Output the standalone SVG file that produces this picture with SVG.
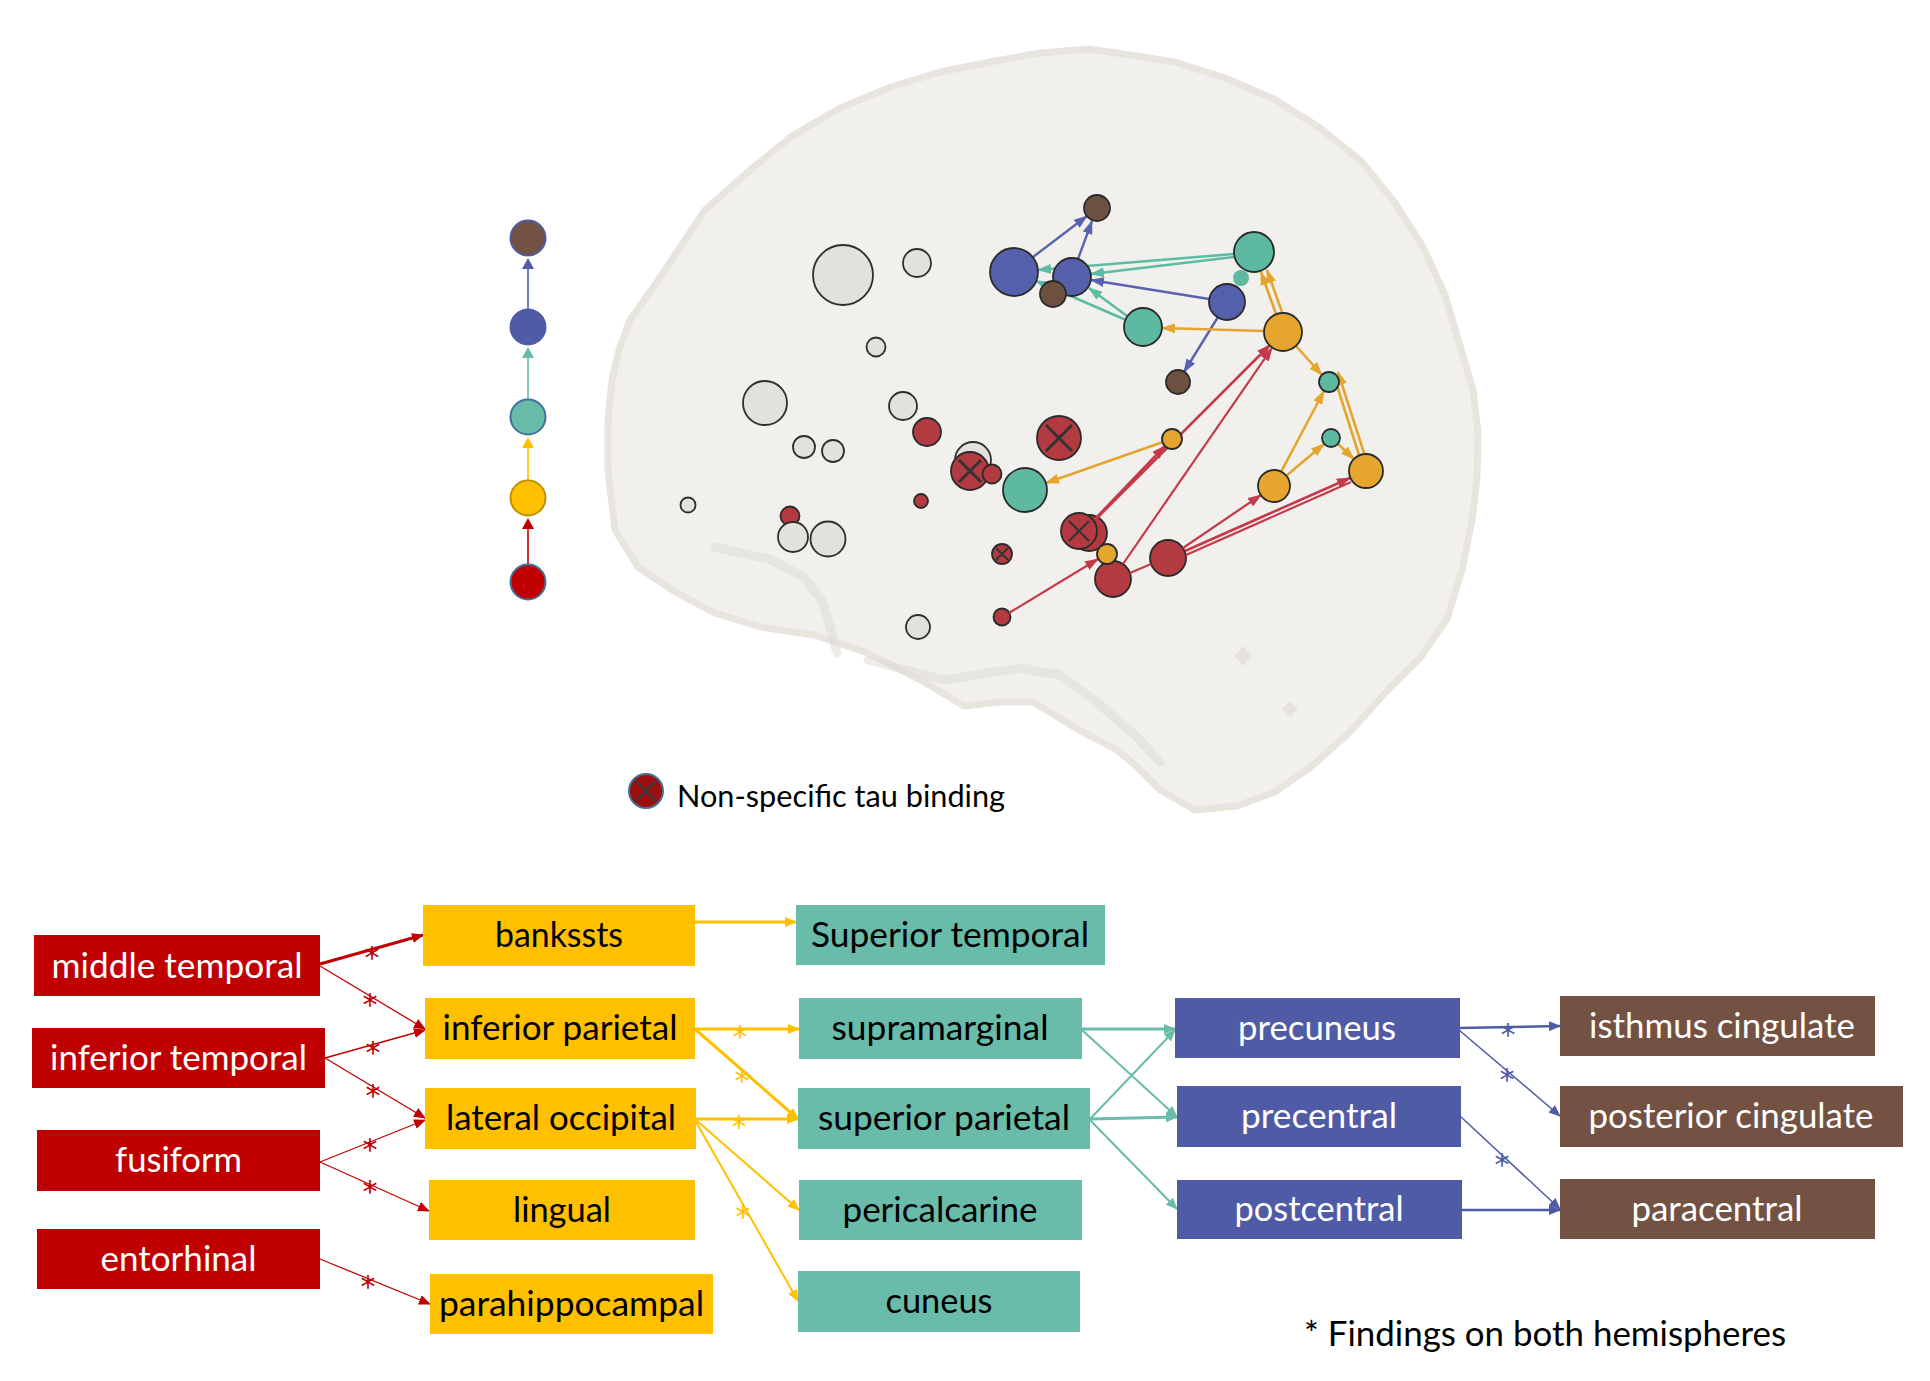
<svg xmlns="http://www.w3.org/2000/svg" width="1930" height="1381" viewBox="0 0 1930 1381">
<style>
.lbl{font-family:Lato,"Liberation Sans",sans-serif;font-size:35px;text-anchor:middle}
.w{fill:#ffffff}.k{fill:#000000}
.red{fill:#c00000}.yel{fill:#ffc000}.tea{fill:#68bca9}.blu{fill:#4f5ba5}.brn{fill:#735243}
.star{font-family:"DejaVu Sans",sans-serif;font-size:30px;text-anchor:middle}
.gn{fill:#e2e1de;stroke:#2e2e2e;stroke-width:1.8}
.rn{fill:#b23a40;stroke:#2a2a2a;stroke-width:1.8}
.yn{fill:#e5a52e;stroke:#2a2a2a;stroke-width:1.8}
.tn{fill:#5eb9a1;stroke:#2a2a2a;stroke-width:1.8}
.bn{fill:#5460ab;stroke:#2a2a2a;stroke-width:1.8}
.brn2{fill:#6e5040;stroke:#2a2a2a;stroke-width:1.8}
.xx{stroke:#333;stroke-width:3;fill:none}
.cr{stroke:#c00000;fill:none}.cy{stroke:#ffc000;fill:none}.ct{stroke:#68bca9;fill:none}.cb{stroke:#4f5ba5;fill:none}
.br{stroke:#c43a4b;fill:none;stroke-width:2.2}.by{stroke:#e5a42d;fill:none;stroke-width:2.6}.bt{stroke:#5dbca3;fill:none;stroke-width:2.6}.bb{stroke:#5862b0;fill:none;stroke-width:2.4}
</style>
<defs>
<marker id="mr" viewBox="0 0 12 10" refX="11" refY="5" markerWidth="12" markerHeight="10" markerUnits="userSpaceOnUse" orient="auto"><path d="M0,0 L12,5 L0,10 z" fill="#c00000"/></marker>
<marker id="my" viewBox="0 0 12 10" refX="11" refY="5" markerWidth="12" markerHeight="10" markerUnits="userSpaceOnUse" orient="auto"><path d="M0,0 L12,5 L0,10 z" fill="#ffc000"/></marker>
<marker id="mt" viewBox="0 0 12 10" refX="11" refY="5" markerWidth="12" markerHeight="10" markerUnits="userSpaceOnUse" orient="auto"><path d="M0,0 L12,5 L0,10 z" fill="#68bca9"/></marker>
<marker id="mb" viewBox="0 0 12 10" refX="11" refY="5" markerWidth="12" markerHeight="10" markerUnits="userSpaceOnUse" orient="auto"><path d="M0,0 L12,5 L0,10 z" fill="#4f5ba5"/></marker>
<marker id="nr" viewBox="0 0 14 10" refX="13" refY="5" markerWidth="14" markerHeight="10" markerUnits="userSpaceOnUse" orient="auto"><path d="M0,0 L14,5 L0,10 z" fill="#c43a4b"/></marker>
<marker id="ny" viewBox="0 0 14 10" refX="13" refY="5" markerWidth="14" markerHeight="10" markerUnits="userSpaceOnUse" orient="auto"><path d="M0,0 L14,5 L0,10 z" fill="#e5a42d"/></marker>
<marker id="nt" viewBox="0 0 14 10" refX="13" refY="5" markerWidth="14" markerHeight="10" markerUnits="userSpaceOnUse" orient="auto"><path d="M0,0 L14,5 L0,10 z" fill="#5dbca3"/></marker>
<marker id="nb" viewBox="0 0 14 10" refX="13" refY="5" markerWidth="14" markerHeight="10" markerUnits="userSpaceOnUse" orient="auto"><path d="M0,0 L14,5 L0,10 z" fill="#5862b0"/></marker>
</defs>
<rect width="1930" height="1381" fill="#ffffff"/>

<!-- brain silhouette -->
<g id="brain">
<path d="M608,470 L608,420 L612,380 L619,350 L630,320 L655,285 L705,210 L750,170 L792,136 L840,108 L891,87 L940,72 L990,62 L1040,53 L1089,49 L1130,55 L1175,62 L1225,78 L1274,99 L1320,128 L1361,161 L1395,203 L1423,247 L1445,295 L1460,346 L1473,390 L1478,433 L1477,478 L1472,520 L1462,570 L1447,619 L1420,658 L1385,693 L1350,732 L1311,767 L1275,792 L1237,806 L1195,810 L1160,790 L1135,765 L1117,750 L1079,730 L1033,702 L1000,702 L964,706 L926,683 L868,653 L814,635 L761,627 L715,613 L677,593 L638,567 L615,530 Z" fill="#f1f0ec" stroke="#e7e5de" stroke-width="7" stroke-linejoin="round"/>
<path d="M715,547 L772,560 L803,577 L822,600 L830,627 L837,653 M868,660 L945,680 L1021,668 L1060,675 L1098,703 L1136,736 L1160,762" fill="none" stroke="#dedad1" stroke-width="9" stroke-linejoin="round" stroke-linecap="round" opacity="0.5"/>
<path d="M1243,646 L1252,656 L1243,666 L1234,656 Z" fill="#e6e3dc"/>
<path d="M1290,701 L1298,709 L1290,717 L1282,709 Z" fill="#e6e3dc"/>
</g>

<!-- brain nodes (gray / red background) -->
<g id="brain-nodes-back">
<circle class="gn" cx="843" cy="275" r="30"/>
<circle class="gn" cx="917" cy="263" r="14"/>
<circle class="gn" cx="876" cy="347" r="9.5"/>
<circle class="gn" cx="765" cy="403" r="22"/>
<circle class="gn" cx="903" cy="406" r="14"/>
<circle class="gn" cx="804" cy="447" r="11"/>
<circle class="gn" cx="833" cy="451" r="11"/>
<circle class="gn" cx="688" cy="505" r="7.5"/>
<circle class="rn" cx="790" cy="516" r="9.5"/>
<circle class="gn" cx="793" cy="537" r="15"/>
<circle class="gn" cx="828" cy="539" r="17.5"/>
<circle class="gn" cx="918" cy="627" r="12"/>
<circle class="rn" cx="927" cy="432" r="14"/>
<circle class="gn" cx="973" cy="460" r="18"/>
<circle class="rn" cx="970" cy="471" r="19"/>
<path class="xx" d="M959,460 L981,482 M981,460 L959,482"/>
<circle class="rn" cx="992" cy="474" r="9.5"/>
<circle class="rn" cx="921" cy="501" r="7"/>
<circle class="rn" cx="1059" cy="438" r="22"/>
<path class="xx" d="M1046,425 L1072,451 M1072,425 L1046,451"/>
<circle class="rn" cx="1002" cy="554" r="10"/>
<path class="xx" style="stroke-width:2" d="M996,548 L1008,560 M1008,548 L996,560"/>
<circle class="rn" cx="1089" cy="533" r="18"/>
<circle class="rn" cx="1079" cy="531" r="18"/>
<path class="xx" style="stroke-width:2.2" d="M1069,521 L1089,541 M1089,521 L1069,541"/>
<circle class="rn" cx="1002" cy="617" r="8.5"/>
<circle class="rn" cx="1113" cy="579" r="18"/>
<circle class="rn" cx="1168" cy="558" r="18"/>
</g>

<!-- brain arrows -->
<g id="brain-connectors">
<path class="bb" marker-end="url(#nb)" d="M1033,257 L1087,216"/>
<path class="bb" marker-end="url(#nb)" d="M1078,259 L1092,221"/>
<path class="bb" marker-end="url(#nb)" d="M1209,299 L1091,280"/>
<path class="bb" marker-end="url(#nb)" d="M1218,317 L1184,372"/>
<path class="bt" marker-end="url(#nt)" d="M1234,254 L1038,270"/>
<path class="bt" marker-end="url(#nt)" d="M1234,257 L1091,274"/>
<path class="bt" marker-end="url(#nt)" d="M1126,320 L1036,281"/>
<path class="bt" marker-end="url(#nt)" d="M1127,316 L1089,288"/>
<path class="by" marker-end="url(#ny)" d="M1264,331 L1162,328"/>
<path class="by" marker-end="url(#ny)" d="M1276,314 L1261,272"/>
<path class="by" marker-end="url(#ny)" d="M1282,312 L1267,270"/>
<path class="by" marker-end="url(#ny)" d="M1296,346 L1322,375"/>
<path class="by" marker-end="url(#ny)" d="M1163,442 L1046,483"/>
<path class="by" marker-end="url(#ny)" d="M1281,472 L1324,391"/>
<path class="by" marker-end="url(#ny)" d="M1286,476 L1324,444"/>
<path class="by" marker-end="url(#ny)" d="M1359,455 L1333,373"/>
<path class="by" marker-end="url(#ny)" d="M1364,453 L1338,372"/>
<path class="by" marker-end="url(#ny)" d="M1338,444 L1354,459"/>
<path class="br" marker-end="url(#nr)" d="M1009,613 L1098,559"/>
<path class="br" style="stroke-width:2.6" marker-end="url(#nr)" d="M1095,519 L1165,446"/>
<path class="br" style="stroke-width:2.6" marker-end="url(#nr)" d="M1096,519 L1270,345"/>
<path class="br" marker-end="url(#nr)" d="M1123,564 L1272,348"/>
<path class="br" d="M1130,573 L1151,564"/>
<path class="br" marker-end="url(#nr)" d="M1183,548 L1261,495"/>
<path class="br" style="stroke-width:2.6" marker-end="url(#nr)" d="M1185,551 L1350,478"/>
<path class="br" d="M1186,555 L1351,482"/>
</g>

<!-- brain nodes (colored, front) -->
<g id="brain-nodes-front">
<circle class="brn2" cx="1097" cy="208" r="13"/>
<circle class="bn" cx="1014" cy="272" r="24"/>
<circle class="bn" cx="1072" cy="277" r="19"/>
<circle class="brn2" cx="1053" cy="294" r="13"/>
<circle class="tn" cx="1254" cy="252" r="20"/>
<circle cx="1241" cy="278" r="8" fill="#5eb9a1"/>
<circle class="bn" cx="1227" cy="302" r="18"/>
<circle class="tn" cx="1143" cy="327" r="19"/>
<circle class="yn" cx="1283" cy="332" r="19"/>
<circle class="brn2" cx="1178" cy="382" r="12"/>
<circle class="yn" cx="1172" cy="439" r="10"/>
<circle class="tn" cx="1025" cy="490" r="22"/>
<circle class="tn" cx="1329" cy="382" r="10"/>
<circle class="tn" cx="1331" cy="438" r="9"/>
<circle class="yn" cx="1274" cy="486" r="16"/>
<circle class="yn" cx="1366" cy="471" r="17"/>
<circle class="yn" cx="1107" cy="554" r="10"/>
</g>

<!-- stage legend column -->
<g id="stage-legend">
<path d="M528,564 L528,526" stroke="#c00000" stroke-width="1.6"/>
<path d="M522,529 L528,518 L534,529 Z" fill="#c00000"/>
<path d="M528,480 L528,445" stroke="#ffc000" stroke-width="1.6"/>
<path d="M522,448 L528,437 L534,448 Z" fill="#ffc000"/>
<path d="M528,399 L528,355" stroke="#68bca9" stroke-width="1.6"/>
<path d="M522,358 L528,347 L534,358 Z" fill="#68bca9"/>
<path d="M528,309 L528,266" stroke="#4f5ba5" stroke-width="1.6"/>
<path d="M522,269 L528,258 L534,269 Z" fill="#4f5ba5"/>
<circle cx="528" cy="238" r="17.5" fill="#735243" stroke="#4f5ba5" stroke-width="2"/>
<circle cx="528" cy="327" r="18.5" fill="#4f5ba5"/>
<circle cx="528" cy="417" r="17.5" fill="#68bca9" stroke="#41719c" stroke-width="2"/>
<circle cx="528" cy="498" r="17.5" fill="#ffc000" stroke="#bf9000" stroke-width="2"/>
<circle cx="528" cy="582" r="17.5" fill="#c00000" stroke="#41719c" stroke-width="2"/>
</g>

<!-- tau legend -->
<g id="tau-legend">
<circle cx="646" cy="791" r="17" fill="#9b0f0f" stroke="#41719c" stroke-width="2"/>
<path d="M636,781 L656,801 M656,781 L636,801" stroke="#3a3a3a" stroke-width="2.4"/>
<text x="677" y="807" style="font-family:Lato,'Liberation Sans',sans-serif;font-size:31px" fill="#000" textLength="328" lengthAdjust="spacingAndGlyphs">Non-specific tau binding</text>
</g>

<!-- flow connectors -->
<g id="connectors">
<path class="cr" stroke-width="3" marker-end="url(#mr)" d="M320,964 L423,935"/>
<path class="cr" stroke-width="1.3" marker-end="url(#mr)" d="M320,966 L425,1029"/>
<path class="cr" stroke-width="1.3" marker-end="url(#mr)" d="M325,1058 L425,1030"/>
<path class="cr" stroke-width="1.3" marker-end="url(#mr)" d="M325,1058 L425,1118"/>
<path class="cr" stroke-width="1.3" marker-end="url(#mr)" d="M320,1162 L425,1120"/>
<path class="cr" stroke-width="1.3" marker-end="url(#mr)" d="M320,1162 L429,1211"/>
<path class="cr" stroke-width="1.3" marker-end="url(#mr)" d="M320,1259 L430,1304"/>
<path class="cy" stroke-width="3" marker-end="url(#my)" d="M695,922 L796,922"/>
<path class="cy" stroke-width="3" marker-end="url(#my)" d="M695,1029 L799,1029"/>
<path class="cy" stroke-width="3" marker-end="url(#my)" d="M695,1029 L798,1119"/>
<path class="cy" stroke-width="3" marker-end="url(#my)" d="M696,1119 L798,1119"/>
<path class="cy" stroke-width="2" marker-end="url(#my)" d="M696,1120 L799,1210"/>
<path class="cy" stroke-width="2" marker-end="url(#my)" d="M696,1122 L798,1301"/>
<path class="ct" stroke-width="3" marker-end="url(#mt)" d="M1082,1029 L1175,1029"/>
<path class="ct" stroke-width="2" marker-end="url(#mt)" d="M1082,1030 L1177,1117"/>
<path class="ct" stroke-width="2" marker-end="url(#mt)" d="M1090,1119 L1175,1030"/>
<path class="ct" stroke-width="3" marker-end="url(#mt)" d="M1090,1119 L1177,1117"/>
<path class="ct" stroke-width="2" marker-end="url(#mt)" d="M1090,1120 L1177,1209"/>
<path class="cb" stroke-width="2.5" marker-end="url(#mb)" d="M1459,1028 L1560,1026"/>
<path class="cb" stroke-width="1.5" marker-end="url(#mb)" d="M1459,1030 L1560,1116"/>
<path class="cb" stroke-width="1.5" marker-end="url(#mb)" d="M1460,1116 L1560,1209"/>
<path class="cb" stroke-width="2.5" marker-end="url(#mb)" d="M1461,1210 L1560,1210"/>
<text class="star" fill="#c00000" x="372" y="968">*</text>
<text class="star" fill="#c00000" x="370" y="1015">*</text>
<text class="star" fill="#c00000" x="373" y="1063">*</text>
<text class="star" fill="#c00000" x="373" y="1106">*</text>
<text class="star" fill="#c00000" x="370" y="1160">*</text>
<text class="star" fill="#c00000" x="370" y="1202">*</text>
<text class="star" fill="#c00000" x="368" y="1297">*</text>
<text class="star" fill="#ffc000" x="740" y="1047">*</text>
<text class="star" fill="#ffc000" x="742" y="1091">*</text>
<text class="star" fill="#ffc000" x="739" y="1137">*</text>
<text class="star" fill="#ffc000" x="743" y="1227">*</text>
<text class="star" fill="#4f5ba5" x="1508" y="1045">*</text>
<text class="star" fill="#4f5ba5" x="1507" y="1090">*</text>
<text class="star" fill="#4f5ba5" x="1502" y="1175">*</text>
</g>

<!-- flow nodes -->
<g id="n-middle-temporal"><rect class="red" x="34" y="935" width="286" height="61"/><text class="lbl w" x="177" y="978" textLength="251" lengthAdjust="spacingAndGlyphs">middle temporal</text></g>
<g id="n-inferior-temporal"><rect class="red" x="32" y="1028" width="293" height="60"/><text class="lbl w" x="178.5" y="1070" textLength="257" lengthAdjust="spacingAndGlyphs">inferior temporal</text></g>
<g id="n-fusiform"><rect class="red" x="37" y="1130" width="283" height="61"/><text class="lbl w" x="178.5" y="1172" textLength="127" lengthAdjust="spacingAndGlyphs">fusiform</text></g>
<g id="n-entorhinal"><rect class="red" x="37" y="1229" width="283" height="60"/><text class="lbl w" x="178.5" y="1271" textLength="156" lengthAdjust="spacingAndGlyphs">entorhinal</text></g>

<g id="n-bankssts"><rect class="yel" x="423" y="905" width="272" height="61"/><text class="lbl k" x="559" y="947" textLength="128" lengthAdjust="spacingAndGlyphs">bankssts</text></g>
<g id="n-inferior-parietal"><rect class="yel" x="425" y="998" width="270" height="61"/><text class="lbl k" x="560" y="1040" textLength="235" lengthAdjust="spacingAndGlyphs">inferior parietal</text></g>
<g id="n-lateral-occipital"><rect class="yel" x="425" y="1088" width="271" height="61"/><text class="lbl k" x="561" y="1130" textLength="230" lengthAdjust="spacingAndGlyphs">lateral occipital</text></g>
<g id="n-lingual"><rect class="yel" x="429" y="1180" width="266" height="60"/><text class="lbl k" x="562" y="1222" textLength="98" lengthAdjust="spacingAndGlyphs">lingual</text></g>
<g id="n-parahippocampal"><rect class="yel" x="430" y="1274" width="283" height="60"/><text class="lbl k" x="571.5" y="1316" textLength="265" lengthAdjust="spacingAndGlyphs">parahippocampal</text></g>

<g id="n-superior-temporal"><rect class="tea" x="796" y="905" width="309" height="60"/><text class="lbl k" x="950" y="947" textLength="278" lengthAdjust="spacingAndGlyphs">Superior temporal</text></g>
<g id="n-supramarginal"><rect class="tea" x="799" y="998" width="283" height="61"/><text class="lbl k" x="940" y="1040" textLength="217" lengthAdjust="spacingAndGlyphs">supramarginal</text></g>
<g id="n-superior-parietal"><rect class="tea" x="798" y="1088" width="292" height="61"/><text class="lbl k" x="944" y="1130" textLength="252" lengthAdjust="spacingAndGlyphs">superior parietal</text></g>
<g id="n-pericalcarine"><rect class="tea" x="799" y="1180" width="283" height="60"/><text class="lbl k" x="940" y="1222" textLength="195" lengthAdjust="spacingAndGlyphs">pericalcarine</text></g>
<g id="n-cuneus"><rect class="tea" x="798" y="1271" width="282" height="61"/><text class="lbl k" x="939" y="1313" textLength="107" lengthAdjust="spacingAndGlyphs">cuneus</text></g>

<g id="n-precuneus"><rect class="blu" x="1175" y="998" width="285" height="60"/><text class="lbl w" x="1317" y="1040" textLength="158" lengthAdjust="spacingAndGlyphs">precuneus</text></g>
<g id="n-precentral"><rect class="blu" x="1177" y="1086" width="284" height="61"/><text class="lbl w" x="1319" y="1128" textLength="156" lengthAdjust="spacingAndGlyphs">precentral</text></g>
<g id="n-postcentral"><rect class="blu" x="1177" y="1180" width="285" height="59"/><text class="lbl w" x="1319" y="1221" textLength="169" lengthAdjust="spacingAndGlyphs">postcentral</text></g>

<g id="n-isthmus-cingulate"><rect class="brn" x="1560" y="996" width="315" height="60"/><text class="lbl w" x="1722" y="1038" textLength="266" lengthAdjust="spacingAndGlyphs">isthmus cingulate</text></g>
<g id="n-posterior-cingulate"><rect class="brn" x="1560" y="1086" width="343" height="61"/><text class="lbl w" x="1731" y="1128" textLength="285" lengthAdjust="spacingAndGlyphs">posterior cingulate</text></g>
<g id="n-paracentral"><rect class="brn" x="1560" y="1179" width="315" height="60"/><text class="lbl w" x="1717" y="1221" textLength="171" lengthAdjust="spacingAndGlyphs">paracentral</text></g>

<text x="1304" y="1346" style="font-family:Lato,'Liberation Sans',sans-serif;font-size:35px" fill="#000" textLength="482" lengthAdjust="spacingAndGlyphs">* Findings on both hemispheres</text>
</svg>
